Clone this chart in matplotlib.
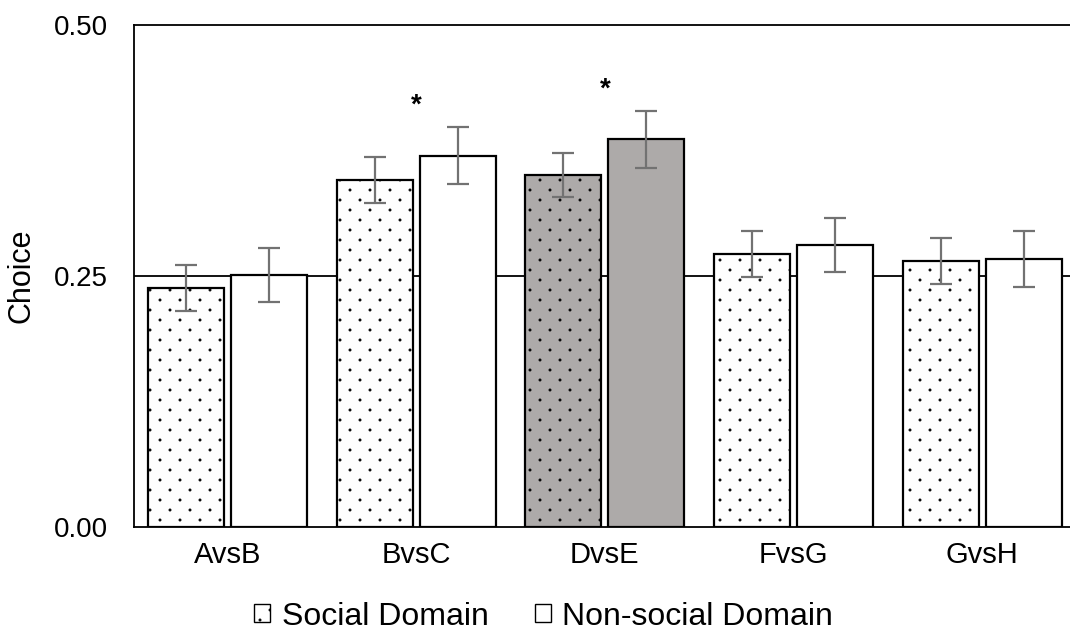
import matplotlib
matplotlib.use("Agg")
import matplotlib.pyplot as plt
import numpy as np
from matplotlib.patches import Patch
from matplotlib import hatch as mhatch
from matplotlib.path import Path

plt.rcParams['font.family'] = ['Liberation Sans', 'DejaVu Sans']
plt.rcParams['hatch.linewidth'] = 0.6

categories = ["AvsB", "BvsC", "DvsE", "FvsG", "GvsH"]
social = [0.238, 0.346, 0.351, 0.272, 0.265]
social_err = [0.023, 0.023, 0.022, 0.023, 0.023]
nonsocial = [0.251, 0.370, 0.386, 0.281, 0.267]
nonsocial_err = [0.027, 0.028, 0.028, 0.027, 0.028]
highlight = [False, False, True, False, False]
significant = [False, True, True, False, False]
yticks = [0.00, 0.25, 0.50]


class SparseDots(mhatch.HatchPatternBase):
    """Staggered small dots: wider column spacing than row spacing."""
    radius = 0.0105

    def __init__(self, hatch, density):
        n = hatch.count('.')
        self.ncols = 5 * n
        self.nrows = 10 * n
        circ = Path.unit_circle()
        self.shape_vertices = circ.vertices
        self.shape_codes = circ.codes
        if n:
            cnt = 0
            for i in range(self.nrows + 1):
                cnt += (self.ncols + 1) if i % 2 == 0 else self.ncols
            self.num_vertices = cnt * len(circ.vertices)
        else:
            self.num_vertices = 0

    def set_vertices_and_codes(self, vertices, codes):
        nv = len(self.shape_vertices)
        k = 0
        for i in range(self.nrows + 1):
            yy = i / self.nrows
            if i % 2 == 0:
                xs = np.arange(self.ncols + 1) / self.ncols
            else:
                xs = (np.arange(self.ncols) + 0.5) / self.ncols
            for xx in xs:
                vertices[k:k + nv] = self.shape_vertices * self.radius + [xx, yy]
                codes[k:k + nv] = self.shape_codes
                k += nv


mhatch._hatch_types = [t for t in mhatch._hatch_types
                       if t is not mhatch.SmallFilledCircles] + [SparseDots]

fig = plt.figure(figsize=(10.7, 6.35), dpi=100)
ax = fig.add_axes([0.1252, 0.1701, 0.88, 0.7905])

x = np.arange(len(categories))
w = 0.403
gap = 0.037
sc = ['#ADAAA9' if h else 'white' for h in highlight]

ax.bar(x - w / 2 - gap / 2, social, w, color=sc, edgecolor='black', linewidth=1.6,
       hatch='.', zorder=3)
ax.bar(x + w / 2 + gap / 2, nonsocial, w, color=sc, edgecolor='black', linewidth=1.6,
       zorder=3)
ax.errorbar(x - w / 2 - gap / 2, social, yerr=social_err, fmt='none', ecolor='#727272',
            elinewidth=1.6, capsize=8, capthick=1.6, zorder=4)
ax.errorbar(x + w / 2 + gap / 2, nonsocial, yerr=nonsocial_err, fmt='none', ecolor='#727272',
            elinewidth=1.6, capsize=8, capthick=1.6, zorder=4)

ax.axhline(0.25, color='black', linewidth=1.3, zorder=2)

for i, s in enumerate(significant):
    if s:
        top = max(social[i] + social_err[i], nonsocial[i] + nonsocial_err[i])
        ax.text(x[i], top + 0.022, '*', ha='center', va='center', fontsize=20,
                fontweight='bold')

ax.set_xlim(-0.495, 4.494)
ax.set_ylim(0, 0.5)
ax.set_yticks(yticks)
ax.set_yticklabels([f"{v:.2f}" for v in yticks])
ax.set_xticks(x)
ax.set_xticklabels(categories)
ax.tick_params(axis='y', length=0, labelsize=20, pad=19)
ax.tick_params(axis='x', length=0, labelsize=21, pad=10)
ax.set_ylabel('Choice', fontsize=22, labelpad=12)
for sp in ['top', 'left', 'bottom', 'right']:
    ax.spines[sp].set_linewidth(1.3)
    ax.spines[sp].set_color('black')

handles = [Patch(facecolor='white', edgecolor='black', hatch='.', linewidth=1.0),
           Patch(facecolor='white', edgecolor='black', linewidth=1.0)]
fig.legend(handles, ['Social Domain', 'Non-social Domain'], loc='center',
           bbox_to_anchor=(0.508, 0.029), ncol=2, frameon=False, fontsize=23,
           handlelength=0.5, handleheight=0.5, handletextpad=0.35, columnspacing=1.45,
           borderpad=0.2)

fig.savefig('out.png', dpi=100)
